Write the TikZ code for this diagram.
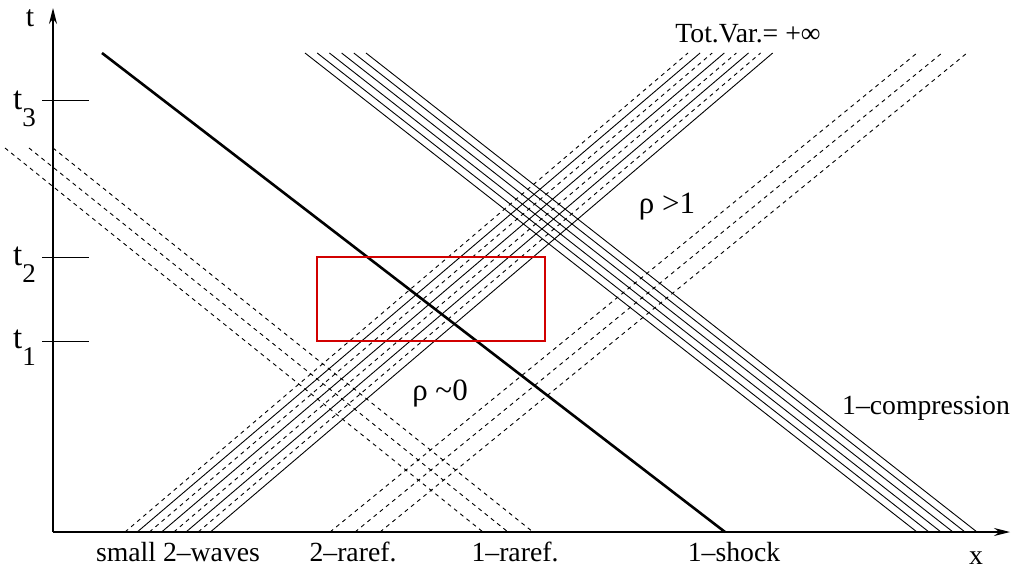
\documentclass[tikz,border=0pt]{standalone}
\usepackage{fontspec}
\setmainfont{Liberation Serif}
\usepackage{xcolor}
\usetikzlibrary{arrows.meta}
\definecolor{boxred}{RGB}{210,0,0}
\newcommand{\tsub}[1]{{\fontsize{33}{35}\selectfont t}\raisebox{-17pt}{\fontsize{27}{29}\selectfont #1}}

\begin{document}
\begin{tikzpicture}[x=1pt,y=-1pt,
  every node/.style={font=\fontsize{27.7}{30}\selectfont,inner sep=0pt},
  wave/.style={line width=0.9pt},
  weak/.style={line width=0.9pt,dash pattern=on 4pt off 4pt}]
\useasboundingbox (0,0) rectangle (1011,570);
% axes
\draw[line width=1.3pt,-{Stealth[length=16pt,width=8pt]}](53,532)--(53,8);
\draw[line width=1.3pt,-{Stealth[length=16pt,width=8pt]}](53,532)--(1010,532);
\node[font=\fontsize{30}{32}\selectfont] (tl) at (30,18){t};
\node (xl) at (976,558){x};
% times
\draw[line width=1pt](42,100)--(89,100)
(42,257)--(89,257)
(42,341)--(89,341);
\node[anchor=base west] (t3) at (13,109){\tsub{3}};
\node[anchor=base west] (t2) at (13,265){\tsub{2}};
\node[anchor=base west] (t1) at (13,348){\tsub{1}};
% 1-compression
\foreach \i in {0,...,5}
  \draw[wave](305+12.2*\i,53)--(917+12*\i,532);
% small 2-waves
\foreach \i in {0,2,4,6}
  \draw[weak](125+12.2*\i,532)--(688+12.1*\i,53);
\foreach \i in {1,3,5,7}
  \draw[wave](125+12.2*\i,532)--(688+12.1*\i,53);
% 2-raref.
\foreach \i in {0,1,2}
  \draw[weak](330+25*\i,532)--(917+25*\i,53);
% 1-raref.
\foreach \i in {0,1,2}
  \draw[weak](5+24*\i,148)--(483+25*\i,532);
% 1-shock
\draw[line width=2.6pt](102,53)--(725,532);
% window
\draw[boxred,line width=2.6pt](317,257)rectangle(545,341);
% labels
\node (tv) at (748,34){Tot.Var.= +∞};
\node[font=\fontsize{31}{33}\selectfont] (rhobig) at (667,207){ρ >1};
\node[font=\fontsize{31}{33}\selectfont] (rhosmall) at (440,393){ρ \textasciitilde 0};
\node (comp) at (926,408){1--compression};
\node (sw) at (178,552){small 2--waves};
\node (rr2) at (353,552){2--raref.};
\node (rr1) at (515,552){1--raref.};
\node (sh) at (734,552){1--shock};
\end{tikzpicture}
\end{document}
